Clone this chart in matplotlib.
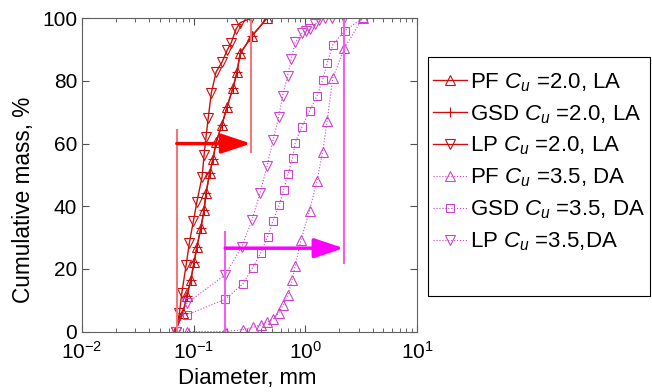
import numpy as np
import matplotlib
matplotlib.use('Agg')
import matplotlib.pyplot as plt
from matplotlib.patches import Rectangle

plt.rcParams['font.family'] = 'Liberation Sans'
plt.rcParams['mathtext.fontset'] = 'custom'
plt.rcParams['mathtext.rm'] = 'Liberation Sans'
plt.rcParams['mathtext.it'] = 'Liberation Sans:italic'

# red set, Cu = 2.0, LA
la_pf_d = [0.068, 0.080, 0.0869, 0.0944, 0.101, 0.107, 0.116, 0.124, 0.129, 0.139,
           0.149, 0.159, 0.179, 0.199, 0.225, 0.244, 0.261, 0.333, 0.453]
la_pf_p = [0, 5.8, 11.3, 16.5, 22.3, 27.1, 33.1, 38.8, 44.2, 50.5,
           55.1, 60.5, 66.0, 71.7, 77.8, 82.7, 88.8, 94.4, 100]
la_gsd_d = [0.068, 0.080, 0.0869, 0.0944, 0.101, 0.107, 0.116, 0.124, 0.129, 0.139,
            0.149, 0.159, 0.179, 0.199, 0.225, 0.244, 0.261, 0.333, 0.453]
la_gsd_p = [0, 5.8, 11.3, 16.5, 22.3, 27.1, 33.1, 38.8, 44.2, 50.5,
            55.1, 60.5, 66.0, 71.7, 77.8, 82.7, 88.8, 94.4, 100]
la_lp_d = [0.0697, 0.0746, 0.0783, 0.0857, 0.0916, 0.0995, 0.107, 0.119, 0.124, 0.129,
           0.135, 0.144, 0.159, 0.180, 0.200, 0.217, 0.240, 0.261, 0.326]
la_lp_p = [0, 5.9, 12.3, 21.3, 28.4, 35.3, 41.5, 49.4, 56.4, 62.1,
           68.2, 76.2, 82.9, 86.1, 89.9, 92.2, 96.6, 98.6, 100]

# magenta set, Cu = 3.5, DA
da_pf_d = [0.0869, 0.1916, 0.274, 0.338, 0.398, 0.454, 0.516, 0.578, 0.635, 0.700,
           0.763, 0.812, 0.914, 1.09, 1.27, 1.43, 1.57, 1.76, 2.24, 3.26]
da_pf_p = [0, 0, 0.6, 1.3, 2.1, 3.0, 4.0, 5.9, 8.5, 11.8,
           16.6, 20.9, 29.2, 38.6, 47.9, 57.4, 67.3, 80.9, 90.5, 100]
da_gsd_d = [0.0869, 0.1916, 0.276, 0.337, 0.401, 0.459, 0.513, 0.585, 0.638, 0.700,
            0.769, 0.812, 0.933, 1.09, 1.27, 1.43, 1.57, 1.76, 2.25, 3.26]
da_gsd_p = [5.3, 10.3, 15.2, 20.4, 25.2, 30.3, 35.3, 40.4, 45.2, 50.3,
            55.5, 60.3, 65.4, 70.4, 75.2, 80.4, 85.7, 91.5, 96.1, 100]
da_lp_d = [0.0697, 0.0869, 0.1916, 0.270, 0.333, 0.394, 0.453, 0.513, 0.577, 0.625,
           0.693, 0.748, 0.812, 0.933, 1.02, 1.11, 1.23, 1.32, 1.51, 1.73, 2.24]
da_lp_p = [0, 9.0, 18.1, 27.1, 35.6, 44.3, 52.7, 61.0, 68.4, 75.2,
           81.6, 87.0, 92.3, 95.3, 96.1, 96.5, 98.2, 99.3, 100, 100, 100]

# range markers: d_left, h_left, d_right, h_right, arrow level
la_range = [0.0706, 64.4, 0.326, 57.3, 60.0]
da_range = [0.1916, 31.9, 2.21, 21.9, 26.6]

labels = ['PF $C_u$ =2.0, LA', 'GSD $C_u$ =2.0, LA', 'LP $C_u$ =2.0, LA',
          'PF $C_u$ =3.5, DA', 'GSD $C_u$ =3.5, DA', 'LP $C_u$ =3.5,DA']

red = '#cc1010'
mag = '#cc44cc'

fig = plt.figure(figsize=(6.52, 3.92), dpi=100)
ax = fig.add_axes([82/652, 1-331.5/392, 335/652, 313.2/392])

ax.plot(la_pf_d, la_pf_p, '-^', color=red, lw=1, ms=6.5, mfc='none', mew=0.8, label=labels[0])
ax.plot(la_gsd_d, la_gsd_p, '-+', color=red, lw=1, ms=6.5, mew=0.8, label=labels[1])
ax.plot(la_lp_d, la_lp_p, '-v', color=red, lw=1, ms=6.5, mfc='none', mew=0.8, label=labels[2])
ax.plot(da_pf_d, da_pf_p, ':^', color=mag, lw=0.8, ms=6.5, mfc='none', mew=0.8, label=labels[3])
ax.plot(da_gsd_d, da_gsd_p, ':s', color=mag, lw=0.8, ms=6, mfc='none', mew=0.8, label=labels[4])
ax.plot(da_lp_d, da_lp_p, ':v', color=mag, lw=0.8, ms=6.5, mfc='none', mew=0.8, label=labels[5])

for rng, vcol, acol in [(la_range, '#f07878', '#ff0000'), (da_range, '#f060f0', '#ff00ff')]:
    ax.plot([rng[0], rng[0]], [0, rng[1]], color=vcol, lw=1.5)
    ax.plot([rng[2], rng[2]], [rng[3], 100], color=vcol, lw=1.5)
    ax.annotate('', xy=(rng[2], rng[4]), xytext=(rng[0], rng[4]),
                arrowprops=dict(arrowstyle='-|>,head_length=0.9,head_width=0.3',
                                color=acol, lw=2.5, shrinkA=0, shrinkB=0,
                                mutation_scale=20))

ax.set_xscale('log')
ax.set_xlim(0.01, 10)
ax.set_ylim(0, 100)
ax.set_yticks([0, 20, 40, 60, 80, 100])
ax.tick_params(which='both', direction='in', top=True, right=True, labelsize=15, color='#505050')
ax.tick_params(which='major', length=5)
ax.tick_params(which='minor', length=3)
ax.tick_params(axis='x', pad=7)
for s in ax.spines.values():
    s.set_color('#606060')
ax.set_xlabel('Diameter, mm', fontsize=16, va='top')
ax.xaxis.set_label_coords(0.494, -0.115)
ax.set_ylabel('Cumulative mass, %', fontsize=16.3, va='center')
ax.yaxis.set_label_coords(-0.176, 0.42)

leg = fig.legend(*ax.get_legend_handles_labels(), loc='upper left',
                 bbox_to_anchor=(433/652, 1-71/392), borderaxespad=0,
                 fontsize=16, frameon=False, handlelength=1.55,
                 handletextpad=0.1, labelspacing=0.42, borderpad=0)
fig.patches.append(Rectangle((428/652, 1-296/392), 222/652, 239/392,
                             transform=fig.transFigure, fill=False,
                             edgecolor='black', lw=0.8))

fig.savefig('out.png', dpi=100)
